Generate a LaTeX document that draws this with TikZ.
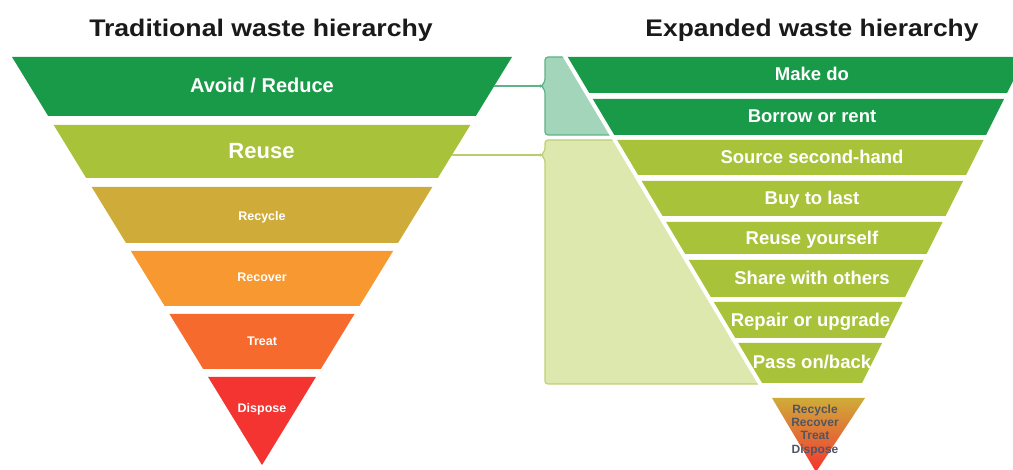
\documentclass[tikz,border=0pt]{standalone}
\usepackage{fontspec}
\setmainfont{Liberation Sans}
\usepackage{graphicx}
\definecolor{dgreen}{RGB}{24,154,72}
\definecolor{lgreen}{RGB}{168,194,58}
\definecolor{mustard}{RGB}{207,172,57}
\definecolor{orng}{RGB}{247,152,48}
\definecolor{dorng}{RGB}{246,106,46}
\definecolor{redd}{RGB}{244,52,48}
\definecolor{panelAfill}{RGB}{162,213,186}
\definecolor{panelAline}{RGB}{95,178,135}
\definecolor{panelBfill}{RGB}{221,232,174}
\definecolor{panelBline}{RGB}{188,209,118}
\definecolor{conAcol}{RGB}{95,180,135}
\definecolor{conBcol}{RGB}{184,206,110}
\definecolor{titlecol}{RGB}{26,26,26}
\definecolor{smallcol}{RGB}{80,85,100}
\newcommand{\lband}[3]{\fill[#3] ({262-0.6127*(465-#1)},#1) -- ({262+0.6127*(465-#1)},#1) -- ({262+0.6127*(465-#2)},#2) -- ({262-0.6127*(465-#2)},#2) -- cycle;}
\newcommand{\rband}[3]{\fill[#3] ({565+0.598*(#1-57)},#1) -- ({1053.5-0.5*#1},#1) -- ({1053.5-0.5*#2},#2) -- ({565+0.598*(#2-57)},#2) -- cycle;}
\tikzset{
  titletext/.style={text=titlecol, anchor=base, inner sep=0, font=\bfseries\fontsize{24}{28}\selectfont},
  biglbl/.style={text=white, anchor=base, inner sep=0, font=\bfseries\fontsize{20}{24}\selectfont},
  smlbl/.style={text=white, anchor=base, inner sep=0, font=\bfseries\fontsize{12.5}{15}\selectfont},
  rlbl/.style={text=white, anchor=base, inner sep=0, font=\bfseries\fontsize{18.5}{22}\selectfont},
  conA/.style={draw=conAcol, line width=2},
  conB/.style={draw=conBcol, line width=2},
}
\begin{document}
\begin{tikzpicture}[x=1pt,y=-1pt]
\useasboundingbox (0,0) rectangle (1013,470);
\fill[white] (0,0) rectangle (1013,470);
\clip (0,0) rectangle (1013,470);

% titles
\node[titletext] (t1) at (261,37) {\scalebox{1.11}[1]{Traditional waste hierarchy}};
\node[titletext] (t2) at (812,37) {\scalebox{1.1}[1]{Expanded waste hierarchy}};

% left pyramid
\lband{57}{116}{dgreen}
\lband{125}{178}{lgreen}
\lband{187}{243}{mustard}
\lband{251}{306}{orng}
\lband{314}{369}{dorng}
\fill[redd] ({262-0.6127*88},377) -- ({262+0.6127*88},377) -- (262,465) -- cycle;

\node[biglbl] (avoid) at (262,93) {Avoid / Reduce};
\node[biglbl, font=\bfseries\fontsize{22}{26}\selectfont] (reuse) at (261.5,159) {Reuse};
\node[smlbl] (recycle) at (262,221) {Recycle};
\node[smlbl] (recover) at (262,282) {Recover};
\node[smlbl] (treat) at (262,346) {Treat};
\node[smlbl] (dispose) at (262,413) {Dispose};

% panels (brackets)
\filldraw[fill=panelAfill, draw=panelAline, line width=1.2, rounded corners=3]
  (566,57) -- (545,57) -- (545,82) -- (541,86) -- (545,90) -- (545,135) -- (612,135) -- cycle;
\filldraw[fill=panelBfill, draw=panelBline, line width=1.2, rounded corners=3]
  (615,140) -- (545,140) -- (545,151) -- (541,155) -- (545,159) -- (545,384) -- (761,384) -- cycle;

% right pyramid bands
\rband{57}{93}{dgreen}
\rband{99}{135}{dgreen}
\rband{140}{175}{lgreen}
\rband{181}{216}{lgreen}
\rband{222}{254}{lgreen}
\rband{260}{297}{lgreen}
\rband{302}{338}{lgreen}
\rband{343}{383}{lgreen}

% white diagonal cut
\draw[white, line width=4] (563.5,54) -- (762,387);

\node[rlbl] (r1) at (812,81) {Make do};
\node[rlbl] (r2) at (812,123) {Borrow or rent};
\node[rlbl] (r3) at (812,164) {Source second-hand};
\node[rlbl] (r4) at (812,205) {Buy to last};
\node[rlbl] (r5) at (812,245) {Reuse yourself};
\node[rlbl] (r6) at (812,285) {Share with others};
\node[rlbl] (r7) at (810.5,327) {Repair or upgrade};
\node[rlbl] (r8) at (812,369) {Pass on/back};

% connectors
\coordinate (avoidR) at (494,86);
\coordinate (tipA) at (541,86);
\coordinate (reuseR) at (452,155);
\coordinate (tipB) at (541,155);
\draw[conA] (avoidR) -- (tipA);
\draw[conB] (reuseR) -- (tipB);

% small triangle
\shade[top color=mustard, middle color=orng, bottom color=redd] (772,398) -- (865,398) -- (816,472) -- cycle;
\node[text=smallcol, align=center, inner sep=0, font=\bfseries\fontsize{12}{13.3}\selectfont] (small) at (815,430) {Recycle\\Recover\\Treat\\Dispose};
\end{tikzpicture}
\end{document}
